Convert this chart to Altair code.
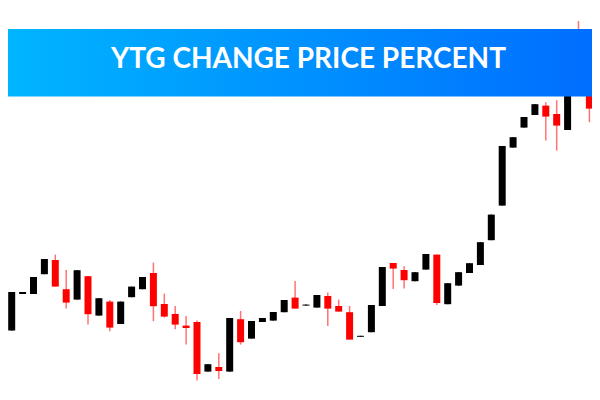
import altair as alt
import pandas as pd

TITLE = "YTG CHANGE PRICE PERCENT"

idx = list(range(56))
opens = [37.7, 30.7, 49, 49, 58.9, 66, 51.4, 46.2, 57.9, 38.2,
         45.2, 34, 47.4, 51.4, 59.5, 44, 39, 33.2, 35, 10.2,
         12.5, 10.2, 36.4, 26.7, 35, 35.7, 39.9, 47.2, 43.2, 42.2,
         48, 43, 39.9, 27.6, 29.9, 43, 64.5, 61, 55.4, 61.2,
         68.7, 43.9, 53.2, 59.5, 63.5, 75.9, 93.2, 122.2, 132.2, 138.5,
         143.2, 139, 131, 171, 153.5, 141]
closes = [29.7, 50, 50, 57.5, 66.5, 52.7, 44.7, 60.9, 38.9, 46.9,
          32.2, 45.2, 52.7, 57.5, 42.9, 37.7, 33.7, 32, 9, 13.9,
          10.5, 37, 24.9, 35.5, 37, 40, 46, 41.7, 43.7, 48.5,
          41.7, 40.2, 26.2, 28.1, 43.5, 62.5, 61.7, 55.9, 59.9, 69,
          44.5, 54.4, 59.9, 64.4, 74.9, 88.7, 123, 127.4, 137.5, 143.9,
          137.7, 133.2, 160, 156, 141.7, 166]
highs = [43, 50, 50, 57.5, 66.5, 68.7, 61, 60.9, 57.9, 46.9,
         46, 45.2, 52.7, 57.5, 64.7, 49.2, 43, 38, 35.7, 13.9,
         19.4, 37, 40.5, 35.5, 37, 40, 46, 55.5, 43.7, 48.5,
         49.7, 46.2, 43, 28.1, 43.5, 62.5, 64.5, 63, 59.9, 69,
         68.7, 54.4, 59.9, 64.4, 74.9, 88.7, 123, 127.4, 137.5, 143.9,
         144.9, 145.9, 160, 185.5, 153.5, 166]
lows = [29.5, 30.7, 49, 49, 58.9, 52.7, 41.7, 46.2, 33.7, 38.2,
        30.4, 34, 47.4, 51.4, 35.4, 37.2, 31.4, 23.7, 5.7, 10.2,
        6.5, 10.2, 23.7, 26.7, 35, 35.7, 39.9, 41.7, 43.2, 42.2,
        33, 40.2, 26.2, 27.6, 29.9, 43, 51.5, 51.7, 55.4, 61.2,
        43.5, 43.9, 53.2, 59.5, 63.5, 75.9, 93.2, 122.2, 132.2, 138.5,
        125.7, 120.7, 131, 156, 134.9, 141]

df = pd.DataFrame({"i": idx, "open": opens, "close": closes, "high": highs, "low": lows})

W, H = 584, 384
xs = alt.Scale(domain=[0.6606, 54.239], nice=False, zero=False, padding=0)
ys = alt.Scale(domain=[0, 192], nice=False, zero=False, padding=0)

up = alt.datum.close >= alt.datum.open

base = alt.Chart(df)
wicks = base.mark_rule(strokeWidth=1.5, clip=True).encode(
    x=alt.X("i:Q", scale=xs, axis=None),
    y=alt.Y("low:Q", scale=ys, axis=None),
    y2="high:Q",
    color=alt.condition(up, alt.value("#000000"), alt.value("#FF4444")),
    opacity=alt.condition(up, alt.value(1.0), alt.value(0.75)),
)
bodies = base.mark_bar(width=7, clip=True).encode(
    x=alt.X("i:Q", scale=xs, axis=None),
    y=alt.Y("open:Q", scale=ys, axis=None),
    y2="close:Q",
    color=alt.condition(up, alt.value("#000000"), alt.value("#FF0000")),
)

tdf = pd.DataFrame({"t": [TITLE]})
banner = alt.Chart(tdf).mark_rect(
    color=alt.Gradient(
        gradient="linear",
        stops=[alt.GradientStop(color="#00B6FF", offset=0),
               alt.GradientStop(color="#006EFF", offset=1)],
        x1=0, x2=1, y1=0, y2=0,
    )
).encode(x=alt.value(-8), x2=alt.value(W), y=alt.value(21), y2=alt.value(88.5))

title = alt.Chart(tdf).mark_text(
    font="Lato", fontSize=28, fontWeight=700, color="white",
    align="center", baseline="middle",
).encode(x=alt.value(300.5), y=alt.value(52), text="t:N")

chart = alt.layer(wicks, bodies, banner, title).properties(
    width=W, height=H, padding=0, autosize="none", background="white"
).configure_view(strokeWidth=0)

chart.save("out.html", embed_options={"renderer": "svg", "actions": False})
